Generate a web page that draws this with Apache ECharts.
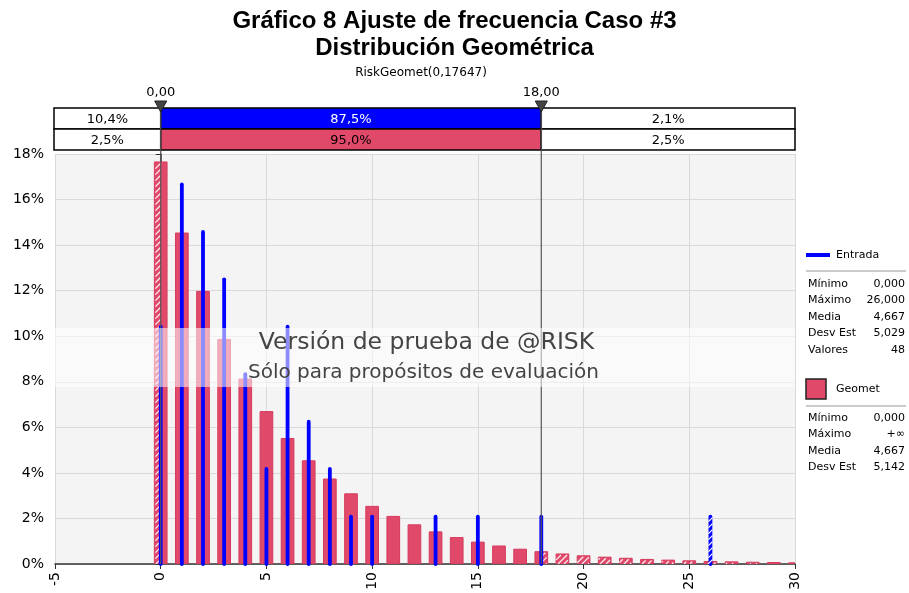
<!DOCTYPE html>
<html>
<head>
<meta charset="utf-8">
<script src="https://cdn.jsdelivr.net/npm/echarts@6/dist/echarts.min.js"></script>
<style>html,body{margin:0;padding:0;background:#fff}#c{width:909px;height:593px}</style>
</head>
<body>
<div id="c"></div>
<script>
// ---- data ----
const titleLines = ['Gráfico 8 Ajuste de frecuencia Caso #3', 'Distribución Geométrica'];
const subtitle = 'RiskGeomet(0,17647)';
const fitK = [0,1,2,3,4,5,6,7,8,9,10,11,12,13,14,15,16,17,18,19,20,21,22,23,24,25,26,27,28,29,30];
const fitPct = [17.65,14.53,11.97,9.86,8.12,6.69,5.51,4.53,3.73,3.08,2.53,2.09,1.72,1.41,1.16,0.96,0.79,0.65,0.54,0.44,0.36,0.30,0.25,0.20,0.17,0.14,0.11,0.094,0.077,0.064,0.052];
const inputX = [0,1,2,3,4,5,6,7,8,9,10,13,15,18,26];
const inputPct = [10.42,16.67,14.58,12.50,8.33,4.17,10.42,6.25,4.17,2.08,2.08,2.08,2.08,2.08,2.08];
const markLeft = 0, markRight = 18;
const markLabels = ['0,00', '18,00'];
const inputBand = ['10,4%', '87,5%', '2,1%'];
const fitBand = ['2,5%', '95,0%', '2,5%'];
const inputStatNames = ['Mínimo','Máximo','Media','Desv Est','Valores'];
const inputStatVals = ['0,000','26,000','4,667','5,029','48'];
const fitStatNames = ['Mínimo','Máximo','Media','Desv Est'];
const fitStatVals = ['0,000','+∞','4,667','5,142'];
const xMin = -5, xMax = 30, xStep = 5;
const yMin = 0, yMax = 18, yStep = 2;

// ---- style ----
const RED = '#e0496a', RED_EDGE = '#d63a5d', BLUE = '#0000ff';
const FONT = '"DejaVu Sans", Verdana, sans-serif';
const BAR_HALF = 0.3;
const HATCH_SP = 6;

function hatch(rx0, rx1, ry0, ry1, color, lw) {
  const out = [];
  if (rx1 - rx0 <= 0.5 || ry1 - ry0 <= 0.5) return out;
  const cStart = Math.ceil((rx0 + ry0) / HATCH_SP) * HATCH_SP;
  for (let c = cStart; c <= rx1 + ry1; c += HATCH_SP) {
    const xa = Math.max(rx0, c - ry1), xb = Math.min(rx1, c - ry0);
    if (xb > xa) out.push({type:'line', shape:{x1:xa, y1:c - xa, x2:xb, y2:c - xb},
      style:{stroke:color, lineWidth:lw}});
  }
  return out;
}

function renderBar(params, api) {
  const k = api.value(0), v = api.value(1);
  const a = api.coord([k - BAR_HALF, v]);
  const b = api.coord([k + BAR_HALF, 0]);
  const x0 = a[0], y0 = a[1], x1 = b[0], y1 = b[1];
  const children = [{type:'rect', shape:{x:x0, y:y0, width:x1 - x0, height:y1 - y0},
    style:{fill:RED, stroke:RED_EDGE, lineWidth:1}}];
  const pL = api.coord([markLeft, 0])[0], pR = api.coord([markRight, 0])[0];
  if (x0 < pL) children.push(...hatch(x0 + 1, Math.min(x1, pL), y0 + 1, y1, 'rgba(255,255,255,0.9)', 1.3));
  if (x1 > pR) children.push(...hatch(Math.max(x0, pR), x1 - 1, y0 + 1, y1, 'rgba(255,255,255,0.9)', 1.3));
  return {type:'group', children};
}

function renderInput(params, api) {
  const x = api.value(0), v = api.value(1);
  const a = api.coord([x, 0]), b = api.coord([x, v]);
  const children = [{type:'line', shape:{x1:a[0], y1:a[1], x2:b[0], y2:b[1]},
    style:{stroke:BLUE, lineWidth:3.8, lineCap:'round'}}];
  if (x < markLeft || x > markRight) {
    children.push(...hatch(a[0] - 2, a[0] + 2, b[1], a[1], '#ffffff', 1.2));
  }
  return {type:'group', children};
}

const chart = echarts.init(document.getElementById('c'), null, {renderer:'canvas'});
const G = {left:55, right:114, top:154, bottom:29};

chart.setOption({
  animation:false,
  backgroundColor:'#ffffff',
  grid:{left:G.left, right:G.right, top:G.top, bottom:G.bottom, show:true, backgroundColor:'#f4f4f4', borderWidth:0},
  xAxis:{type:'value', min:xMin, max:xMax, interval:xStep,
    axisLine:{show:true, onZero:false, lineStyle:{color:'#333', width:1.5}},
    axisTick:{show:true, length:5, lineStyle:{color:'#333'}},
    axisLabel:{rotate:90, color:'#000', fontFamily:FONT, fontSize:14, margin:8},
    splitLine:{show:true, lineStyle:{color:'#d9d9d9', width:1}}},
  yAxis:{type:'value', min:yMin, max:yMax, interval:yStep,
    axisLine:{show:true, lineStyle:{color:'#333', width:1.5}},
    axisTick:{show:true, length:5, lineStyle:{color:'#333'}},
    axisLabel:{formatter:'{value}%', color:'#000', fontFamily:FONT, fontSize:14, margin:11},
    splitLine:{show:true, lineStyle:{color:'#d9d9d9', width:1}}},
  series:[
    {type:'custom', name:'Geomet', renderItem:renderBar, clip:true, z:2,
     data:fitK.map((k, i) => [k, fitPct[i]])},
    {type:'custom', name:'Entrada', renderItem:renderInput, clip:false, z:3,
     data:inputX.map((x, i) => [x, inputPct[i]])}
  ]
});

function buildGraphics() {
  const pL = chart.convertToPixel({gridIndex:0}, [markLeft, 0]);
  const pR = chart.convertToPixel({gridIndex:0}, [markRight, 0]);
  const gTop = chart.convertToPixel({gridIndex:0}, [xMin, yMax]);
  const gBot = chart.convertToPixel({gridIndex:0}, [xMax, yMin]);
  const left = gTop[0] - 1, right = gBot[0];
  const yBase = gBot[1];
  const r1 = 108, rh = 21;
  const els = [];
  // titles
  els.push({type:'text', left:'center', top:9, style:{text:titleLines[0], font:'bold 24px "Liberation Sans", Arial, sans-serif', fill:'#000'}});
  els.push({type:'text', left:'center', top:36, style:{text:titleLines[1], font:'bold 24px "Liberation Sans", Arial, sans-serif', fill:'#000'}});
  els.push({type:'text', x:421, y:73, style:{text:subtitle, font:'12px ' + FONT, fill:'#000', align:'center', verticalAlign:'middle'}});
  // delimiter bands
  const bands = [[inputBand, BLUE, ['#000','#fff','#000']], [fitBand, RED, ['#000','#000','#000']]];
  bands.forEach((b, r) => {
    const y = r1 + r * rh;
    const segs = [[left, pL[0]], [pL[0], pR[0]], [pR[0], right]];
    segs.forEach((s, j) => {
      els.push({type:'rect', shape:{x:s[0], y:y, width:s[1] - s[0], height:rh},
        style:{fill: j === 1 ? b[1] : '#fff', stroke:'#000', lineWidth:1.5}, z:5});
      els.push({type:'text', x:(s[0] + s[1]) / 2, y:y + rh / 2 + 1,
        style:{text:b[0][j], font:'13px ' + FONT, fill:b[2][j], align:'center', verticalAlign:'middle'}, z:6});
    });
  });
  // marker lines, triangles, labels
  [pL[0], pR[0]].forEach((px, i) => {
    els.push({type:'line', shape:{x1:px, y1:r1, x2:px, y2:yBase}, style:{stroke:'#555', lineWidth:1.2}, z:7});
    els.push({type:'polygon', shape:{points:[[px - 6, 101], [px + 6, 101], [px, 112]]}, style:{fill:'#444', stroke:'#222', lineWidth:1}, z:8});
    els.push({type:'text', x:px, y:93, style:{text:markLabels[i], font:'13px ' + FONT, fill:'#000', align:'center', verticalAlign:'middle'}, z:8});
  });
  // watermark
  els.push({type:'rect', shape:{x:left, y:328, width:right - left, height:59}, style:{fill:'rgba(255,255,255,0.55)'}, z:20});
  els.push({type:'text', x:(left + right) / 2 + 2, y:343, style:{text:'Versión de prueba de @RISK', font:'23.5px ' + FONT, fill:'#444', align:'center', verticalAlign:'middle'}, z:21});
  els.push({type:'text', x:(left + right) / 2 - 1, y:373, style:{text:'Sólo para propósitos de evaluación', font:'20px ' + FONT, fill:'#444', align:'center', verticalAlign:'middle'}, z:21});
  // legend
  const lx = 806, rx = 905;
  els.push({type:'line', shape:{x1:lx, y1:255, x2:830, y2:255}, style:{stroke:BLUE, lineWidth:4}});
  els.push({type:'text', x:836, y:255, style:{text:'Entrada', font:'11px ' + FONT, fill:'#000', verticalAlign:'middle'}});
  els.push({type:'line', shape:{x1:lx, y1:271, x2:rx + 1, y2:271}, style:{stroke:'#999', lineWidth:1}});
  inputStatNames.forEach((n, i) => {
    const y = 284 + i * 16.5;
    els.push({type:'text', x:lx + 2, y:y, style:{text:n, font:'11px ' + FONT, fill:'#000', verticalAlign:'middle'}});
    els.push({type:'text', x:rx, y:y, style:{text:inputStatVals[i], font:'11px ' + FONT, fill:'#000', align:'right', verticalAlign:'middle'}});
  });
  els.push({type:'rect', shape:{x:lx, y:379, width:20, height:20}, style:{fill:RED, stroke:'#222', lineWidth:1.5}});
  els.push({type:'text', x:836, y:389, style:{text:'Geomet', font:'11px ' + FONT, fill:'#000', verticalAlign:'middle'}});
  els.push({type:'line', shape:{x1:lx, y1:406, x2:rx + 1, y2:406}, style:{stroke:'#999', lineWidth:1}});
  fitStatNames.forEach((n, i) => {
    const y = 418 + i * 16.5;
    els.push({type:'text', x:lx + 2, y:y, style:{text:n, font:'11px ' + FONT, fill:'#000', verticalAlign:'middle'}});
    els.push({type:'text', x:rx, y:y, style:{text:fitStatVals[i], font:'11px ' + FONT, fill:'#000', align:'right', verticalAlign:'middle'}});
  });
  chart.setOption({graphic:{elements:els}});
}
buildGraphics();
</script>
</body>
</html>
